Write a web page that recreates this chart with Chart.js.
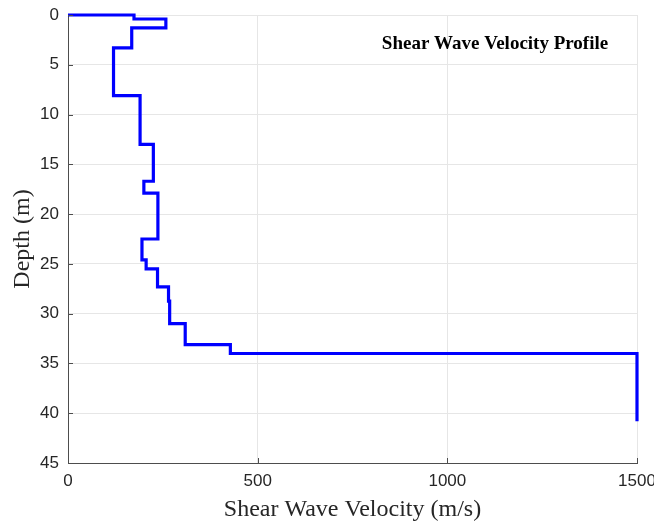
<!DOCTYPE html>
<html>
<head>
<meta charset="utf-8">
<script src="https://cdn.jsdelivr.net/npm/chart.js@4"></script>
<style>
  html, body { margin: 0; padding: 0; background: #fff; }
  #wrap { width: 654px; height: 524px; }
</style>
</head>
<body>
<div id="wrap"><canvas id="myChart" width="654" height="524"></canvas></div>
<script>
// layer boundaries (m) and the velocity of each layer (m/s)
const layerDepths = [0, 0.4, 1.3, 3.3, 8.1, 13, 16.7, 17.9, 22.5, 24.6, 25.5, 27.3, 28.75, 31, 33.1, 34, 40.8];
const layerVs = [174, 258, 168, 120, 190, 225, 200, 237, 195, 206, 236, 265, 268, 309, 428, 1500];
const xTicks = [0, 500, 1000, 1500];
const yTicks = [0, 5, 10, 15, 20, 25, 30, 35, 40, 45];

// staircase: start at surface, then each layer top and bottom
const points = [{ x: 0, y: 0 }];
for (let i = 0; i < layerVs.length; i++) {
    points.push({ x: layerVs[i], y: layerDepths[i] });
    points.push({ x: layerVs[i], y: layerDepths[i + 1] });
}

// title inside the axes plus short inward tick marks (matlab look)
const extras = {
    id: 'extras',
    afterDraw(chart) {
        const ctx = chart.ctx;
        const area = chart.chartArea;
        const xs = chart.scales.x;
        const ys = chart.scales.y;
        ctx.save();
        ctx.strokeStyle = '#4d4d4d';
        ctx.lineWidth = 1;
        ctx.beginPath();
        xTicks.forEach(v => {
            const px = Math.round(xs.getPixelForValue(v)) + 0.5;
            ctx.moveTo(px, area.bottom);
            ctx.lineTo(px, area.bottom - 5);
        });
        yTicks.forEach(v => {
            const py = Math.round(ys.getPixelForValue(v)) + 0.5;
            ctx.moveTo(area.left, py);
            ctx.lineTo(area.left + 5, py);
        });
        ctx.stroke();

        ctx.font = 'bold 19px "Liberation Serif", "Times New Roman", serif';
        ctx.fillStyle = '#000';
        ctx.textAlign = 'center';
        ctx.textBaseline = 'alphabetic';
        ctx.fillText('Shear Wave Velocity Profile', area.left + 427, area.top + 34);
        ctx.restore();
    }
};

const ctx = document.getElementById('myChart').getContext('2d');
new Chart(ctx, {
    type: 'scatter',
    data: {
        datasets: [{
            data: points,
            showLine: true,
            borderColor: 'rgb(0, 0, 255)',
            borderWidth: 3.2,
            pointRadius: 0,
            fill: false,
            tension: 0,
            clip: false
        }]
    },
    options: {
        responsive: false,
        animation: false,
        layout: { padding: 0 },
        plugins: {
            legend: { display: false },
            tooltip: { enabled: false }
        },
        scales: {
            x: {
                type: 'linear',
                min: 0,
                max: 1500,
                afterBuildTicks: (scale) => { scale.ticks = xTicks.map(v => ({ value: v })); },
                afterFit: (scale) => { scale.height = 61; scale.paddingRight = 17; },
                grid: { color: '#e6e6e6', drawTicks: false },
                border: { color: '#4d4d4d', width: 1 },
                ticks: {
                    color: '#262626',
                    padding: 8,
                    callback: (v) => String(v),
                    font: { family: '"Liberation Sans", Arial, sans-serif', size: 17 }
                },
                title: {
                    display: true,
                    text: 'Shear Wave Velocity (m/s)',
                    color: '#262626',
                    padding: { top: 0, bottom: 0 },
                    font: { family: '"Liberation Serif", "Times New Roman", serif', size: 24 }
                }
            },
            y: {
                type: 'linear',
                reverse: true,
                min: 0,
                max: 45,
                afterBuildTicks: (scale) => { scale.ticks = yTicks.map(v => ({ value: v })); },
                afterFit: (scale) => { scale.width = 68; scale.paddingTop = 15; },
                grid: { color: '#e6e6e6', drawTicks: false },
                border: { color: '#4d4d4d', width: 1 },
                ticks: {
                    color: '#262626',
                    padding: 9,
                    callback: (v) => String(v),
                    font: { family: '"Liberation Sans", Arial, sans-serif', size: 17 }
                },
                title: {
                    display: true,
                    text: 'Depth (m)',
                    color: '#262626',
                    padding: { top: 8, bottom: 0 },
                    font: { family: '"Liberation Serif", "Times New Roman", serif', size: 24 }
                }
            }
        }
    },
    plugins: [extras]
});
</script>
</body>
</html>
